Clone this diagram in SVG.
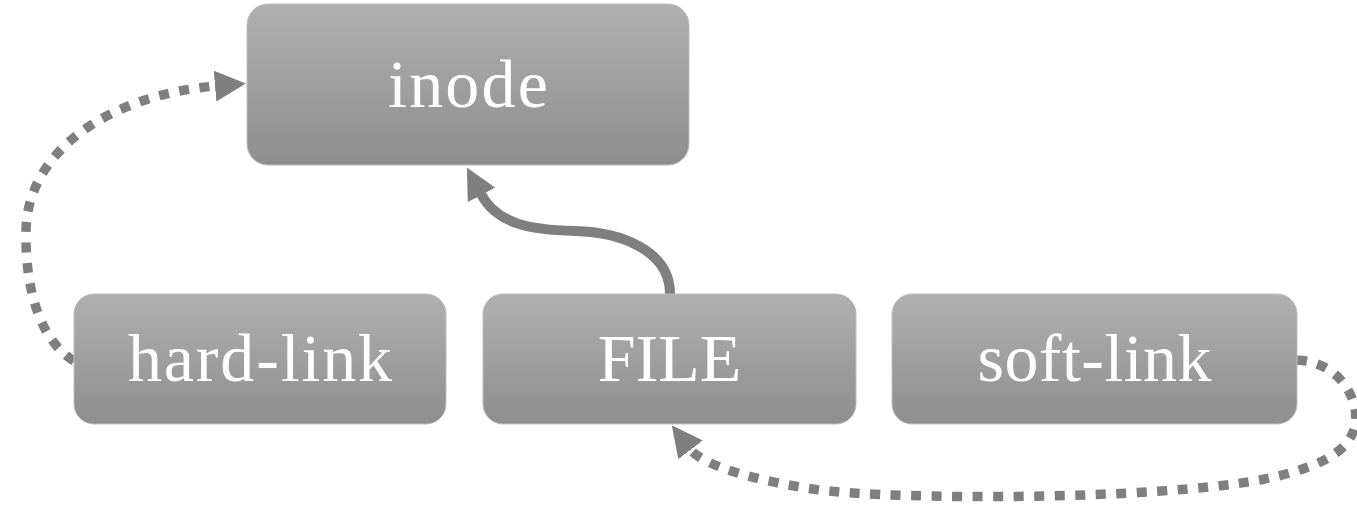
<svg xmlns="http://www.w3.org/2000/svg" width="1357" height="513" viewBox="0 0 1357 513">
  <style>
    .box { fill: url(#boxGrad); stroke: #bdbdbd; stroke-width: 1; }
    .label { font-family: "Liberation Serif", "DejaVu Serif", serif; font-size: 68px; fill: #ffffff; text-anchor: middle; }
    .solid { fill: none; stroke: #7f7f7f; stroke-width: 10; }
    .dotted { fill: none; stroke: #7f7f7f; stroke-width: 9.5; stroke-dasharray: 10 10.5; }
  </style>
  <defs>
    <linearGradient id="boxGrad" x1="0" y1="0" x2="0" y2="1">
      <stop offset="0" stop-color="#b0b0b0"/>
      <stop offset="1" stop-color="#8e8e8e"/>
    </linearGradient>
    <marker id="arrow" viewBox="0 0 31 31" markerUnits="userSpaceOnUse" markerWidth="31" markerHeight="31" refX="1" refY="15.5" orient="auto">
      <path d="M0,0 L31,15.5 L0,31 z" fill="#7f7f7f"/>
    </marker>
  </defs>

  <g id="connectors">
    <path id="file-to-inode" class="solid" d="M670,294 C670,250 620,232 575,231 C530,230 497,224 481,194" marker-end="url(#arrow)"/>
    <path id="hardlink-to-inode" class="dotted" d="M74,361 C40,340 25,290 26,230 C28,150 110,95 216,86" marker-end="url(#arrow)"/>
    <path id="softlink-to-file" class="dotted" d="M1297,360 C1340,362 1360,400 1355,425 C1350,455 1310,470 1260,480 C1150,500 900,500 820,490 C760,482 703,466 690,449" marker-end="url(#arrow)"/>
  </g>

  <g id="node-inode">
    <rect class="box" x="247" y="4" width="442" height="161" rx="21"/>
    <text class="label" x="468" y="107" textLength="160" lengthAdjust="spacing">inode</text>
  </g>
  <g id="node-hardlink">
    <rect class="box" x="74" y="294" width="372" height="130" rx="20"/>
    <text class="label" x="260" y="381" textLength="264" lengthAdjust="spacing">hard-link</text>
  </g>
  <g id="node-file">
    <rect class="box" x="483" y="294" width="373" height="130" rx="20"/>
    <text class="label" x="669.5" y="381">FILE</text>
  </g>
  <g id="node-softlink">
    <rect class="box" x="892" y="294" width="405" height="130" rx="20"/>
    <text class="label" x="1094.5" y="381" textLength="234" lengthAdjust="spacing">soft-link</text>
  </g>
</svg>
